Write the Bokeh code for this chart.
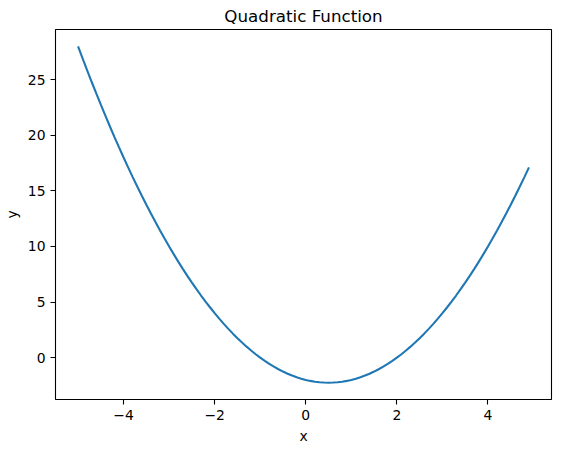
from bokeh.plotting import figure
from bokeh.models import Range1d, FixedTicker, CustomJSTickFormatter, ColumnDataSource
from bokeh.embed import file_html
from bokeh.resources import INLINE

# Data
x_vals = [-5.0, -4.9, -4.8, -4.7, -4.6, -4.5, -4.4, -4.3, -4.2, -4.1,
          -4.0, -3.9, -3.8, -3.7, -3.6, -3.5, -3.4, -3.3, -3.2, -3.1,
          -3.0, -2.9, -2.8, -2.7, -2.6, -2.5, -2.4, -2.3, -2.2, -2.1,
          -2.0, -1.9, -1.8, -1.7, -1.6, -1.5, -1.4, -1.3, -1.2, -1.1,
          -1.0, -0.9, -0.8, -0.7, -0.6, -0.5, -0.4, -0.3, -0.2, -0.1,
          0.0, 0.1, 0.2, 0.3, 0.4, 0.5, 0.6, 0.7, 0.8, 0.9,
          1.0, 1.1, 1.2, 1.3, 1.4, 1.5, 1.6, 1.7, 1.8, 1.9,
          2.0, 2.1, 2.2, 2.3, 2.4, 2.5, 2.6, 2.7, 2.8, 2.9,
          3.0, 3.1, 3.2, 3.3, 3.4, 3.5, 3.6, 3.7, 3.8, 3.9,
          4.0, 4.1, 4.2, 4.3, 4.4, 4.5, 4.6, 4.7, 4.8, 4.9]
y_vals = [28.0, 26.91, 25.84, 24.79, 23.76, 22.75, 21.76, 20.79, 19.84, 18.91,
          18.0, 17.11, 16.24, 15.39, 14.56, 13.75, 12.96, 12.19, 11.44, 10.71,
          10.0, 9.31, 8.64, 7.99, 7.36, 6.75, 6.16, 5.59, 5.04, 4.51,
          4.0, 3.51, 3.04, 2.59, 2.16, 1.75, 1.36, 0.99, 0.64, 0.31,
          0.0, -0.29, -0.56, -0.81, -1.04, -1.25, -1.44, -1.61, -1.76, -1.89,
          -2.0, -2.09, -2.16, -2.21, -2.24, -2.25, -2.24, -2.21, -2.16, -2.09,
          -2.0, -1.89, -1.76, -1.61, -1.44, -1.25, -1.04, -0.81, -0.56, -0.29,
          0.0, 0.31, 0.64, 0.99, 1.36, 1.75, 2.16, 2.59, 3.04, 3.51,
          4.0, 4.51, 5.04, 5.59, 6.16, 6.75, 7.36, 7.99, 8.64, 9.31,
          10.0, 10.71, 11.44, 12.19, 12.96, 13.75, 14.56, 15.39, 16.24, 17.11]
x_ticks = [-4, -2, 0, 2, 4]
y_ticks = [0, 5, 10, 15, 20, 25]
title_text = "Quadratic Function"
x_label = "x"
y_label = "y"

FONT = "DejaVu Sans"

p = figure(frame_width=496, frame_height=370,
           output_backend="svg", toolbar_location=None,
           x_range=Range1d(-5.495, 5.395), y_range=Range1d(-3.7625, 29.5125),
           min_border_left=49, min_border_right=2, min_border_top=22, min_border_bottom=45)

src = ColumnDataSource(dict(x=x_vals, y=y_vals))
p.line("x", "y", source=src, line_color="#1f77b4", line_width=2.1)

p.title.text = title_text
p.title.text_font = FONT
p.title.text_font_size = "16.7px"
p.title.text_font_style = "normal"
p.title.align = "center"
p.title.text_color = "black"
p.title.standoff = 7

p.xgrid.visible = False
p.ygrid.visible = False
p.outline_line_color = "black"
p.outline_line_alpha = 1.0
p.outline_line_width = 1.1

fmt = CustomJSTickFormatter(code="return tick < 0 ? '\u2212' + Math.abs(tick) : String(tick);")

for ax, ticks, lab in ((p.xaxis[0], x_ticks, x_label), (p.yaxis[0], y_ticks, y_label)):
    ax.ticker = FixedTicker(ticks=ticks)
    ax.formatter = fmt
    ax.axis_label = lab
    ax.axis_label_text_font = FONT
    ax.axis_label_text_font_size = "13.9px"
    ax.axis_label_text_font_style = "normal"
    ax.axis_label_text_color = "black"
    ax.major_label_text_font = FONT
    ax.major_label_text_font_size = "13.9px"
    ax.major_label_text_color = "black"
    ax.major_tick_in = 0
    ax.major_tick_out = 5
    ax.major_tick_line_color = "black"
    ax.major_tick_line_width = 1.1
    ax.minor_tick_line_color = None
    ax.axis_line_color = None
    ax.major_label_standoff = 5

p.xaxis[0].axis_label_standoff = 5
p.yaxis[0].axis_label_standoff = 5

p.background_fill_color = "white"
p.border_fill_color = "white"

open("out.html", "w").write(file_html(p, INLINE))
